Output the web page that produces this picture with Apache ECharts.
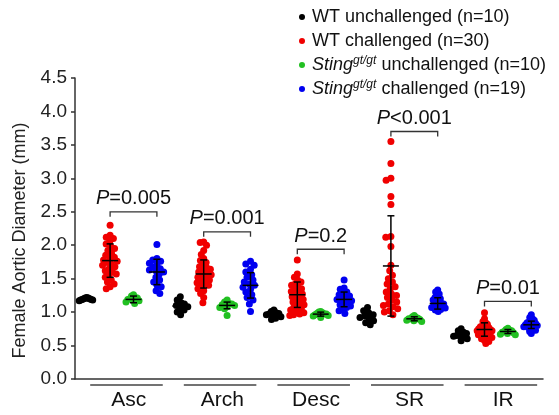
<!DOCTYPE html>
<html><head><meta charset="utf-8">
<script src="https://cdn.jsdelivr.net/npm/echarts@6/dist/echarts.min.js"></script>
<style>html,body{margin:0;padding:0;background:#fff}#c{width:559px;height:415px}</style>
</head><body><div id="c"></div>
<script>
// ---- data ----
const regions = ['Asc', 'Arch', 'Desc', 'SR', 'IR'];
const groupNames = ['WT unchallenged (n=10)', 'WT challenged (n=30)', 'Sting unchallenged (n=10)', 'Sting challenged (n=19)'];
const wtUnchallenged = [
  [1.17, 1.18, 1.19, 1.20, 1.21, 1.22, 1.18, 1.19, 1.20, 1.21],
  [0.96, 1.00, 1.03, 1.05, 1.08, 1.10, 1.12, 1.14, 1.18, 1.23],
  [0.89, 0.91, 0.93, 0.95, 0.96, 0.97, 0.98, 0.99, 1.01, 1.03],
  [0.81, 0.84, 0.87, 0.90, 0.92, 0.94, 0.96, 0.99, 1.02, 1.07],
  [0.57, 0.60, 0.62, 0.64, 0.65, 0.66, 0.68, 0.70, 0.72, 0.75]
];
const wtChallenged = [
  [2.30, 2.15, 2.12, 2.10, 2.06, 2.02, 1.98, 1.95, 1.92, 1.88, 1.85, 1.82, 1.80, 1.78, 1.76, 1.74, 1.72, 1.70, 1.68, 1.65, 1.62, 1.60, 1.57, 1.55, 1.52, 1.48, 1.45, 1.42, 1.38, 1.35],
  [2.05, 2.04, 2.00, 1.92, 1.86, 1.80, 1.77, 1.74, 1.71, 1.68, 1.66, 1.64, 1.62, 1.60, 1.58, 1.56, 1.54, 1.52, 1.50, 1.48, 1.46, 1.44, 1.42, 1.40, 1.38, 1.35, 1.32, 1.28, 1.22, 1.14],
  [1.78, 1.57, 1.52, 1.48, 1.45, 1.42, 1.40, 1.37, 1.35, 1.33, 1.31, 1.29, 1.27, 1.25, 1.23, 1.21, 1.19, 1.17, 1.15, 1.13, 1.11, 1.09, 1.07, 1.05, 1.03, 1.01, 0.99, 0.97, 0.96, 0.95],
  [3.55, 3.22, 3.00, 2.97, 2.73, 2.61, 2.13, 2.12, 1.98, 1.70, 1.62, 1.55, 1.50, 1.45, 1.42, 1.38, 1.35, 1.30, 1.27, 1.25, 1.22, 1.18, 1.15, 1.12, 1.10, 1.08, 1.05, 1.02, 1.00, 0.96],
  [0.99, 0.90, 0.86, 0.84, 0.82, 0.80, 0.79, 0.78, 0.77, 0.76, 0.75, 0.74, 0.73, 0.72, 0.72, 0.71, 0.70, 0.69, 0.68, 0.67, 0.66, 0.65, 0.64, 0.63, 0.62, 0.61, 0.60, 0.58, 0.56, 0.53]
];
const stingUnchallenged = [
  [1.13, 1.15, 1.17, 1.18, 1.19, 1.20, 1.21, 1.22, 1.24, 1.26],
  [0.95, 1.05, 1.07, 1.08, 1.10, 1.11, 1.12, 1.13, 1.15, 1.18],
  [0.92, 0.94, 0.95, 0.96, 0.97, 0.97, 0.98, 0.99, 1.00, 1.01],
  [0.86, 0.87, 0.88, 0.89, 0.90, 0.90, 0.91, 0.92, 0.93, 0.95],
  [0.66, 0.67, 0.68, 0.69, 0.70, 0.71, 0.72, 0.73, 0.74, 0.76]
];
const stingChallenged = [
  [2.01, 1.80, 1.78, 1.76, 1.73, 1.70, 1.68, 1.65, 1.63, 1.62, 1.60, 1.57, 1.52, 1.48, 1.45, 1.40, 1.38, 1.32, 1.28],
  [1.76, 1.72, 1.70, 1.64, 1.60, 1.56, 1.52, 1.48, 1.45, 1.42, 1.40, 1.37, 1.34, 1.30, 1.26, 1.22, 1.18, 1.12, 1.01],
  [1.48, 1.36, 1.34, 1.30, 1.28, 1.26, 1.24, 1.22, 1.20, 1.19, 1.17, 1.15, 1.13, 1.11, 1.09, 1.07, 1.05, 1.02, 0.98],
  [1.33, 1.30, 1.27, 1.24, 1.22, 1.20, 1.18, 1.16, 1.14, 1.13, 1.12, 1.10, 1.09, 1.08, 1.07, 1.06, 1.04, 1.03, 1.01],
  [0.96, 0.92, 0.90, 0.88, 0.86, 0.85, 0.84, 0.83, 0.82, 0.81, 0.80, 0.79, 0.78, 0.77, 0.76, 0.75, 0.73, 0.71, 0.68]
];
// mean and SD per region
const wtUnchMean = [1.19, 1.09, 0.96, 0.93, 0.66];
const wtUnchSD   = [0.02, 0.08, 0.04, 0.07, 0.05];
const wtChMean   = [1.77, 1.57, 1.26, 1.69, 0.74];
const wtChSD     = [0.25, 0.21, 0.19, 0.75, 0.10];
const stUnchMean = [1.19, 1.10, 0.97, 0.90, 0.71];
const stUnchSD   = [0.05, 0.05, 0.03, 0.03, 0.03];
const stChMean   = [1.60, 1.40, 1.19, 1.13, 0.81];
const stChSD     = [0.19, 0.19, 0.11, 0.085, 0.055];
// significance brackets: region index, bracket height, p text
const pRegion = [0, 1, 2, 3, 4];
const pHeight = [2.50, 2.20, 1.94, 3.70, 1.16];
const pText   = ['=0.005', '=0.001', '=0.2', '<0.001', '=0.01'];
const yTicks = { min: 0, max: 4.5, interval: 0.5 };

const colors = ['#000000', '#f00000', '#22c022', '#0000f0'];
const allGroups = [wtUnchallenged, wtChallenged, stingUnchallenged, stingChallenged];
const allMeans = [wtUnchMean, wtChMean, stUnchMean, stChMean];
const allSDs = [wtUnchSD, wtChSD, stUnchSD, stChSD];
const FONT = 'Liberation Sans, Arial, sans-serif';

const chart = echarts.init(document.getElementById('c'));
const base = {
  animation: false,
  grid: { left: 75, right: 16, top: 78, bottom: 36 },
  xAxis: { type: 'value', min: 0, max: regions.length * 4, show: true,
    axisLine: { show: true, lineStyle: { color: '#333', width: 1.5 } },
    axisTick: { show: false }, axisLabel: { show: false }, splitLine: { show: false } },
  yAxis: { type: 'value', min: yTicks.min, max: yTicks.max, interval: yTicks.interval,
    name: 'Female Aortic Diameter (mm)', nameLocation: 'middle', nameGap: 46,
    nameTextStyle: { fontSize: 18, color: '#222', fontFamily: FONT, padding: [0, 24, 0, 0] },
    axisLine: { show: true, lineStyle: { color: '#333', width: 1.5 } },
    axisTick: { show: true, length: 4, lineStyle: { color: '#333', width: 1.5 } },
    axisLabel: { fontSize: 19, color: '#222', fontFamily: FONT, margin: 8,
      formatter: v => v.toFixed(1) },
    splitLine: { show: false } }
};
chart.setOption(base);

const p0 = chart.convertToPixel({ gridIndex: 0 }, [0, 0]);
const p1 = chart.convertToPixel({ gridIndex: 0 }, [1, 1]);
const pxX = Math.abs(p1[0] - p0[0]);
const pxY = Math.abs(p1[1] - p0[1]);

// beeswarm layout (pixel space), compressed to a maximum half-width -> x offsets in axis units
function swarm(values, D, maxHalf) {
  const order = values.map((v, i) => i).sort((a, b) => values[b] - values[a]);
  const placed = [];
  const px = new Array(values.length).fill(0);
  order.forEach(i => {
    const y = values[i] * pxY;
    const blocks = [];
    placed.forEach(p => {
      const dy = Math.abs(p.y - y);
      if (dy < D) { const w = Math.sqrt(D * D - dy * dy); blocks.push([p.x - w, p.x + w]); }
    });
    const cands = [0];
    blocks.forEach(b => { cands.push(b[0], b[1]); });
    cands.sort((a, b) => Math.abs(a) - Math.abs(b));
    let x = 0;
    for (const c of cands) {
      if (blocks.every(b => c <= b[0] + 1e-6 || c >= b[1] - 1e-6)) { x = c; break; }
    }
    placed.push({ x, y });
    px[i] = x;
  });
  const m = Math.max(...px.map(Math.abs));
  const k = m > maxHalf ? maxHalf / m : 1;
  return px.map(x => x * k / pxX);
}

const series = [];
allGroups.forEach((grp, s) => {
  const data = [];
  grp.forEach((vals, r) => {
    const offs = swarm(vals, 5.5, 7.5);
    vals.forEach((v, k) => data.push([r * 4 + s + 0.5 + offs[k], v]));
  });
  series.push({ name: groupNames[s], type: 'scatter', data, symbolSize: 7,
    itemStyle: { color: colors[s], opacity: 1 }, z: 2 });
});

// error bars: mean line + SD whiskers
const ebData = [];
allMeans.forEach((m, s) => m.forEach((mv, r) => ebData.push([r * 4 + s + 0.5, mv, allSDs[s][r]])));
series.push({
  type: 'custom', z: 5, silent: true, data: ebData,
  renderItem: (params, api) => {
    const x = api.value(0), m = api.value(1), sd = api.value(2);
    const c = api.coord([x, m]), t = api.coord([x, m + sd]), b = api.coord([x, m - sd]);
    const st = { stroke: '#000', lineWidth: 1.5 };
    return { type: 'group', children: [
      { type: 'line', shape: { x1: c[0] - 8, y1: c[1], x2: c[0] + 8, y2: c[1] }, style: st },
      { type: 'line', shape: { x1: t[0], y1: t[1], x2: b[0], y2: b[1] }, style: st },
      { type: 'line', shape: { x1: t[0] - 3.5, y1: t[1], x2: t[0] + 3.5, y2: t[1] }, style: st },
      { type: 'line', shape: { x1: b[0] - 3.5, y1: b[1], x2: b[0] + 3.5, y2: b[1] }, style: st }
    ] };
  }
});

// significance brackets
series.push({
  type: 'custom', z: 6, silent: true,
  data: pRegion.map((r, i) => [r * 4 + 1.5, r * 4 + 3.5, pHeight[i], i]),
  renderItem: (params, api) => {
    const a = api.coord([api.value(0), api.value(2)]);
    const b = api.coord([api.value(1), api.value(2)]);
    const i = api.value(3);
    return { type: 'group', children: [
      { type: 'polyline', shape: { points: [[a[0], a[1] + 5], [a[0], a[1]], [b[0], a[1]], [b[0], a[1] + 5]] },
        style: { stroke: '#333', lineWidth: 1.3, fill: null } },
      { type: 'text', x: (a[0] + b[0]) / 2, y: a[1] - 3,
        style: { text: '{i|P}' + pText[i], fontSize: 20, fontFamily: FONT, fill: '#111',
          align: 'center', verticalAlign: 'bottom',
          rich: { i: { fontStyle: 'italic', fontSize: 20, fontFamily: FONT, fill: '#111' } } } }
    ] };
  }
});

// region underlines and labels
series.push({
  type: 'custom', z: 6, silent: true,
  data: regions.map((n, r) => [r]),
  renderItem: (params, api) => {
    const r = api.value(0);
    const a = api.coord([r * 4 + 0.65, 0]);
    const b = api.coord([r * 4 + 3.75, 0]);
    const m = api.coord([r * 4 + 2.3, 0]);
    return { type: 'group', children: [
      { type: 'line', shape: { x1: a[0], y1: a[1] + 6, x2: b[0], y2: b[1] + 6 },
        style: { stroke: '#444', lineWidth: 1.5 } },
      { type: 'text', x: m[0], y: m[1] + 21,
        style: { text: regions[r], fontSize: 21, fontFamily: FONT, fill: '#111',
          align: 'center', verticalAlign: 'middle' } }
    ] };
  }
});

chart.setOption({
  legend: {
    orient: 'vertical', left: 294, top: 2, itemGap: 4, itemWidth: 10, itemHeight: 6,
    icon: 'circle', data: groupNames, selectedMode: false,
    textStyle: { fontSize: 18, color: '#111', fontFamily: FONT, lineHeight: 20,
      rich: {
        it: { fontStyle: 'italic', fontSize: 18, fontFamily: FONT, color: '#111', lineHeight: 20 },
        sup: { fontStyle: 'italic', fontSize: 12, fontFamily: FONT, color: '#111', verticalAlign: 'top', lineHeight: 20 },
        n: { fontSize: 18, fontFamily: FONT, color: '#111', lineHeight: 20 }
      } },
    formatter: name => {
      if (name.indexOf('Sting') === 0) return '{it|Sting}{sup|gt/gt}{n|' + name.slice(5) + '}';
      return name;
    }
  },
  series
});
</script>
</body></html>
